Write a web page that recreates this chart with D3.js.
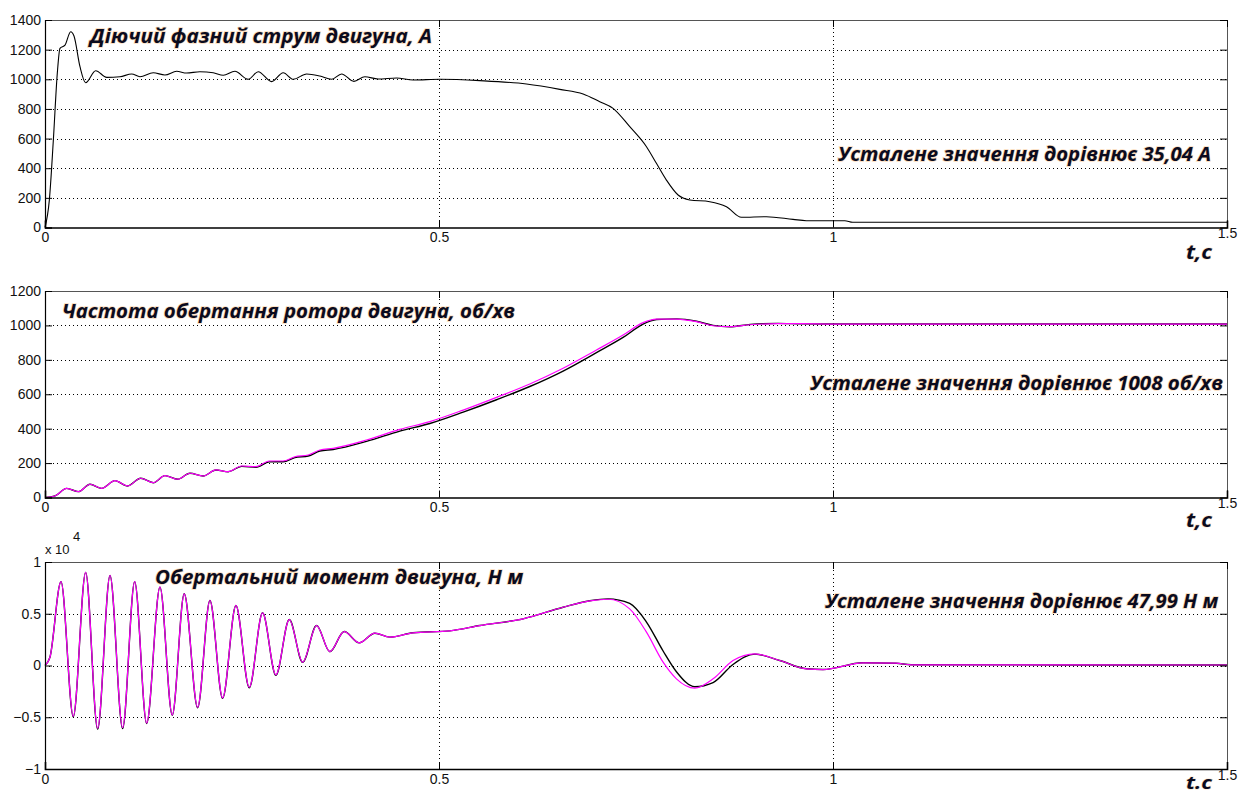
<!DOCTYPE html>
<html>
<head>
<meta charset="utf-8">
<script src="https://cdn.jsdelivr.net/npm/d3@7"></script>
<style>
  html, body { margin: 0; padding: 0; background: #fff; }
  svg { display: block; }
  .tick text { font-family: "Liberation Sans", Arial, sans-serif; font-size: 14px; fill: #111; }
  .title { font-family: "Open Sans", "Noto Sans", sans-serif; font-weight: 700; font-style: italic;
           fill: #0b0b1e; stroke: #f2a24a; stroke-opacity: 0.4; stroke-width: 1.5; paint-order: stroke; }
  .tlabel { font-family: "Open Sans", "Noto Sans", sans-serif; font-weight: 700; font-style: italic;
            fill: #0b0b1e; stroke: #f2a24a; stroke-opacity: 0.3; stroke-width: 1.2; paint-order: stroke; }
</style>
</head>
<body>
<svg id="chart" width="1239" height="796"></svg>
<script>
// ---- Phase current, A ----
const currentTime = [0, 0.0055, 0.0106, 0.0156, 0.019, 0.0254, 0.0326, 0.0368, 0.0444, 0.0516, 0.0643, 0.0783,
  0.0951, 0.11, 0.1205, 0.1374, 0.1522, 0.1671, 0.1797, 0.1966, 0.2135, 0.2262, 0.241, 0.2579, 0.2706, 0.2876,
  0.3023, 0.315, 0.332, 0.3488, 0.3637, 0.3764, 0.392, 0.4059, 0.4228, 0.4461, 0.4672, 0.5011, 0.5518, 0.611,
  0.6533, 0.6829, 0.704, 0.7209, 0.7421, 0.7633, 0.7759, 0.7886, 0.8034, 0.8182, 0.8436, 0.8648, 0.8838, 0.9155,
  0.9493, 0.9662, 1.0, 1.015, 1.025, 1.5];
const currentValues = [0, 185, 590, 1040, 1209, 1231, 1321, 1292, 1085, 977, 1058, 1013,
  1017, 1036, 1017, 1044, 1029, 1054, 1042, 1051, 1044, 1027, 1054, 1000, 1051, 984,
  1044, 1000, 1036, 1022, 1000, 1036, 986, 1017, 1002, 1009, 995, 1000, 991, 968,
  932, 901, 849, 804, 680, 545, 433, 320, 219, 186, 174, 140, 69, 73,
  55, 46, 46, 46, 35.04, 35.04];

// ---- Rotor speed, rpm (model output and reference) ----
const speedTime = [0, 0.0127, 0.0275, 0.0423, 0.0571, 0.0719, 0.0888, 0.1049, 0.1214, 0.1374, 0.1522, 0.1683,
  0.1839, 0.2008, 0.2169, 0.2326, 0.2495, 0.2677, 0.2846, 0.3023, 0.3171, 0.334, 0.3488, 0.3657, 0.408, 0.4503,
  0.4884, 0.5307, 0.573, 0.6152, 0.6575, 0.6998, 0.7336, 0.759, 0.776, 0.8013, 0.8267, 0.8478, 0.869, 0.895,
  0.93, 0.96, 1.0, 1.5];
const speedMagenta = [0, 9, 53, 34, 77, 53, 98, 67, 112, 86, 127, 106,
  141, 125, 160, 150, 183, 179, 212, 212, 237, 247, 276, 286, 334, 396,
  441, 508, 582, 660, 751, 857, 944, 1016, 1036, 1037, 1022, 998, 993, 1004,
  1010, 1010, 1008, 1008];
const speedBlack = [0, 9, 53, 34, 77, 53, 98, 67, 112, 86, 127, 106,
  141, 125, 160, 150, 181, 176, 207, 208, 232, 241, 270, 279, 326, 386,
  430, 496, 568, 645, 735, 842, 930, 1008, 1034, 1038, 1024, 1000, 992, 1006,
  1012, 1009, 1008, 1008];

// ---- Electromagnetic torque, N·m ----
const torqueTime = [0, 0.0063, 0.0203, 0.0359, 0.0516, 0.0668, 0.0825, 0.0985, 0.1138, 0.129, 0.1459, 0.1615,
  0.1767, 0.1937, 0.2093, 0.2254, 0.2423, 0.2592, 0.2761, 0.293, 0.31, 0.327, 0.3446, 0.3615, 0.3797, 0.3987,
  0.4186, 0.4376, 0.467, 0.5138, 0.5518, 0.6068, 0.6575, 0.6914, 0.7146, 0.742, 0.7633, 0.7844, 0.8013, 0.8246,
  0.8478, 0.8731, 0.9007, 0.9324, 0.9662, 0.9873, 1.038, 1.08, 1.099, 1.5];
const torqueMagenta = [0, 800, 8100, -4900, 9000, -6050, 8700, -6000, 8100, -5550, 7570, -4770,
  6930, -4030, 6280, -3120, 5800, -2100, 5090, -900, 4440, 320, 3860, 1350, 3280, 2190,
  3120, 2740, 3160, 3350, 3860, 4510, 5630, 6250, 6400, 5470, 3220, 320, -1290, -2190,
  -1290, 480, 1130, 480, -320, -390, 260, 220, 70, 47.99];
const torqueBlack = [0, 800, 8100, -4950, 9000, -6150, 8700, -6100, 8100, -5600, 7570, -4800,
  6930, -4080, 6280, -3180, 5800, -2150, 5090, -950, 4440, 300, 3860, 1330, 3280, 2190,
  3120, 2740, 3160, 3350, 3860, 4510, 5630, 6250, 6440, 6000, 4200, 1400, -600, -2050,
  -1650, 100, 1100, 480, -320, -390, 260, 220, 70, 47.99];

// ---- Tick values and text ----
const xTicks = [0, 0.5, 1, 1.5];
const currentTicks = [0, 200, 400, 600, 800, 1000, 1200, 1400];
const speedTicks = [0, 200, 400, 600, 800, 1000, 1200];
const torqueTicks = [-10000, -5000, 0, 5000, 10000];

const titles = ["Діючий фазний струм двигуна, А", "Частота обертання ротора двигуна, об/хв", "Обертальний момент двигуна, Н м"];
const notes = ["Усталене значення дорівнює 35,04 А", "Усталене значення дорівнює 1008 об/хв", "Усталене значення дорівнює 47,99 Н м"];
const timeLabels = ["t,c", "t,c", "t.c"];

const svg = d3.select("#chart");
const left = 45, right = 1227;
const x = d3.scaleLinear().domain([0, 1.5]).range([left, right]);

function panel(cfg) {
  const y = d3.scaleLinear().domain(cfg.domain).range([cfg.bottom, cfg.top]);
  const g = svg.append("g");

  // dotted grid
  const grid = g.append("g").attr("stroke", "#000").attr("stroke-width", 1)
    .attr("stroke-dasharray", "1,3");
  grid.selectAll("line.h").data(cfg.ticks.filter(d => d !== cfg.domain[0] && d !== cfg.domain[1]))
    .join("line").attr("x1", left).attr("x2", right)
    .attr("y1", d => Math.round(y(d)) + 0.5).attr("y2", d => Math.round(y(d)) + 0.5);
  grid.selectAll("line.v").data([0.5, 1]).join("line")
    .attr("x1", d => Math.round(x(d)) + 0.5).attr("x2", d => Math.round(x(d)) + 0.5)
    .attr("y1", cfg.top).attr("y2", cfg.bottom);

  // frame: top/right gray, left/bottom black
  g.append("line").attr("x1", left).attr("x2", right).attr("y1", cfg.top + 0.5).attr("y2", cfg.top + 0.5)
    .attr("stroke", "#555");
  g.append("line").attr("x1", right + 0.5).attr("x2", right + 0.5).attr("y1", cfg.top).attr("y2", cfg.bottom)
    .attr("stroke", "#555");

  // series
  const line = d3.line().curve(d3.curveMonotoneX).x(d => x(d[0])).y(d => y(d[1]));
  cfg.series.forEach(s => {
    g.append("path").datum(s.time.map((t, i) => [t, s.values[i]]))
      .attr("fill", "none").attr("stroke", s.color).attr("stroke-width", s.width)
      .attr("stroke-linejoin", "round").attr("d", line);
  });

  // axes with inward ticks
  const ax = g.append("g").attr("transform", `translate(0,${cfg.bottom})`)
    .call(d3.axisBottom(x).tickValues(xTicks).tickSize(-7).tickPadding(5).tickFormat(d3.format("~g")));
  ax.select(".domain").attr("stroke", "#000").attr("stroke-width", 1.6);
  ax.selectAll(".tick line").attr("stroke", "#000");
  ax.selectAll(".tick text").filter(d => d === 1.5).attr("dx", "0px").attr("y", 1);

  const axTop = g.append("g").attr("transform", `translate(0,${cfg.top})`)
    .call(d3.axisTop(x).tickValues(xTicks).tickSize(-7).tickFormat(""));
  axTop.select(".domain").remove();
  axTop.selectAll(".tick line").attr("stroke", "#000");

  const ay = g.append("g").attr("transform", `translate(${left},0)`)
    .call(d3.axisLeft(y).tickValues(cfg.ticks).tickSize(-7).tickPadding(4).tickFormat(cfg.format));
  ay.select(".domain").attr("stroke", "#000").attr("stroke-width", 1.2);
  ay.selectAll(".tick line").attr("stroke", "#000");

  const ayr = g.append("g").attr("transform", `translate(${right},0)`)
    .call(d3.axisRight(y).tickValues(cfg.ticks).tickSize(-7).tickFormat(""));
  ayr.select(".domain").remove();
  ayr.selectAll(".tick line").attr("stroke", "#000");

  // texts
  g.append("text").attr("class", "title").attr("x", cfg.titleX).attr("y", cfg.titleY)
    .attr("font-size", 19).attr("textLength", cfg.titleW).attr("lengthAdjust", "spacingAndGlyphs")
    .text(cfg.title);
  g.append("text").attr("class", "title").attr("x", cfg.noteX).attr("y", cfg.noteY)
    .attr("font-size", 19).attr("textLength", cfg.noteW).attr("lengthAdjust", "spacingAndGlyphs")
    .text(cfg.note);
  g.append("text").attr("class", "tlabel").attr("x", 1186).attr("y", cfg.tY)
    .attr("font-size", cfg.tSize || 19).attr("textLength", 26).attr("lengthAdjust", "spacingAndGlyphs")
    .text(cfg.tLabel);
  return { g, y };
}

panel({
  top: 20, bottom: 227.5, domain: [0, 1400], ticks: currentTicks, format: d3.format("d"),
  series: [{ time: currentTime, values: currentValues, color: "#000", width: 1.1 }],
  title: titles[0], titleX: 90, titleY: 43, titleW: 342,
  note: notes[0], noteX: 838, noteY: 161, noteW: 373,
  tLabel: timeLabels[0], tY: 259
});

panel({
  top: 291, bottom: 497.5, domain: [0, 1200], ticks: speedTicks, format: d3.format("d"),
  series: [
    { time: speedTime, values: speedBlack, color: "#000", width: 1.4 },
    { time: speedTime, values: speedMagenta, color: "#ff00ff", width: 1.2 }
  ],
  title: titles[1], titleX: 62, titleY: 318, titleW: 453,
  note: notes[1], noteX: 810, noteY: 390, noteW: 413,
  tLabel: timeLabels[1], tY: 527
});

panel({
  top: 562, bottom: 769, domain: [-10000, 10000], ticks: torqueTicks, format: d => d3.format("~g")(d / 10000),
  series: [
    { time: torqueTime, values: torqueBlack, color: "#000", width: 1.4 },
    { time: torqueTime, values: torqueMagenta, color: "#ff00ff", width: 1.2 }
  ],
  title: titles[2], titleX: 155, titleY: 584, titleW: 368,
  note: notes[2], noteX: 825, noteY: 608, noteW: 393,
  tLabel: timeLabels[2], tY: 789, tSize: 17
});

// exponent label of the torque axis
svg.append("text").attr("x", 45).attr("y", 554)
  .attr("font-family", "Liberation Sans, Arial, sans-serif").attr("font-size", 13).attr("fill", "#111")
  .text("x 10");
svg.append("text").attr("x", 73).attr("y", 541)
  .attr("font-family", "Liberation Sans, Arial, sans-serif").attr("font-size", 13).attr("fill", "#111")
  .text("4");
</script>
</body>
</html>
